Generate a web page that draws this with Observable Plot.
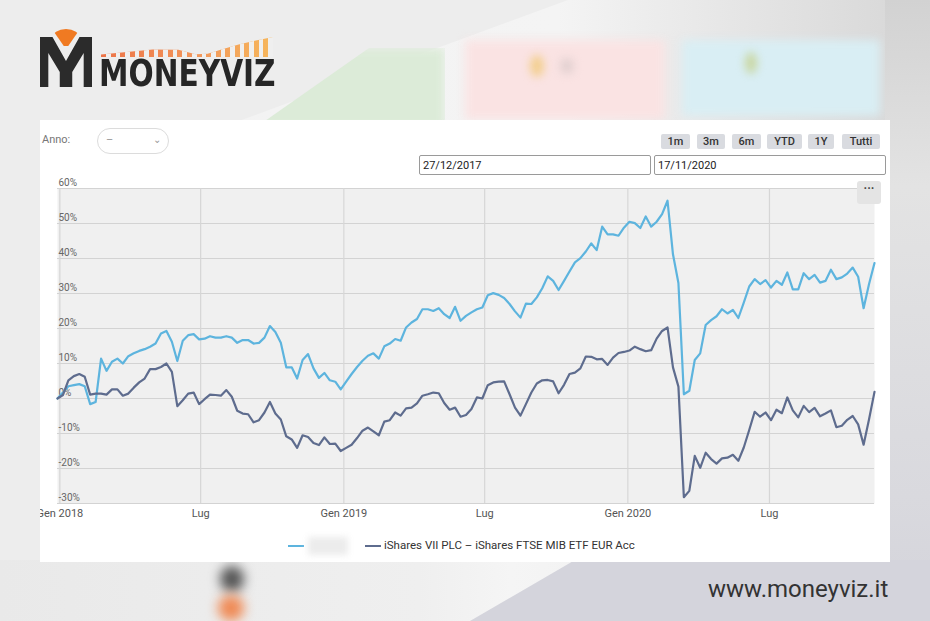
<!DOCTYPE html>
<html>
<head>
<meta charset="utf-8">
<script src="https://cdn.jsdelivr.net/npm/d3@7"></script>
<script src="https://cdn.jsdelivr.net/npm/@observablehq/plot@0.6"></script>
<style>
  html, body { margin: 0; padding: 0; }
  body { width: 930px; height: 621px; overflow: hidden; position: relative; background: #ededed; font-family: Roboto, "Noto Sans", sans-serif; }
  .abs { position: absolute; }
  #panel { position: absolute; left: 40px; top: 120px; width: 850px; height: 442px; background: #fff; overflow: hidden; }
  .btn { position: absolute; top: 14px; height: 15px; line-height: 15px; background: #d9dbe0; color: #333; font-size: 11px; font-weight: 500; text-align: center; border-radius: 2px; }
  .inp { position: absolute; top: 35px; height: 20px; border: 1px solid #9a9a9a; border-radius: 2px; font-size: 11px; line-height: 20px; color: #222; padding-left: 3px; box-sizing: border-box; }
</style>
</head>
<body>
<!-- background decoration -->
<div class="abs" style="left:0;top:0;width:930px;height:125px;background:linear-gradient(90deg,#f2f2f2,#f4f4f4 60%,#d6d6d6);clip-path:polygon(228px 125px,568px 0,930px 0,930px 125px);"></div>
<div class="abs" style="left:255px;top:48px;width:190px;height:80px;background:#dcebd8;filter:blur(5px);clip-path:polygon(0 100%,60% 0,100% 0,100% 100%);"></div>
<div class="abs" style="left:465px;top:40px;width:200px;height:80px;background:#fae3e3;filter:blur(5px);"></div>
<div class="abs" style="left:530px;top:55px;width:14px;height:22px;background:#f3cf8f;filter:blur(4px);border-radius:50%;"></div>
<div class="abs" style="left:560px;top:58px;width:14px;height:16px;background:#e2d0d0;filter:blur(4px);border-radius:50%;"></div>
<div class="abs" style="left:682px;top:40px;width:198px;height:76px;background:#d9eef4;filter:blur(5px);"></div>
<div class="abs" style="left:745px;top:52px;width:12px;height:22px;background:#c9d7a2;filter:blur(4px);border-radius:50%;"></div>
<div class="abs" style="left:885px;top:0;width:45px;height:621px;background:linear-gradient(180deg,#d2d2d2,#e3e3e3 30%,#d9d9de 80%,#d4d4db);"></div>
<div class="abs" style="left:0;top:560px;width:930px;height:61px;background:linear-gradient(90deg,#e9e9e9,#efefef 45%,#f5f5f5 55%,#e8e8e8);"></div>
<div class="abs" style="left:0;top:560px;width:930px;height:61px;background:#d4d4dc;clip-path:polygon(575px 0,930px 0,930px 61px,470px 61px);"></div>
<div class="abs" style="left:220px;top:566px;width:24px;height:26px;background:#555;filter:blur(6px);border-radius:50%;"></div>
<div class="abs" style="left:218px;top:595px;width:26px;height:26px;background:#ef8a55;filter:blur(6px);border-radius:50%;"></div>

<!-- logo -->
<div class="abs" style="left:52px;top:29px;width:28px;height:17px;background:#f07a22;border-radius:14px 14px 0 0 / 9px 9px 0 0;clip-path:polygon(0 0,100% 0,58% 100%,42% 100%);"></div>
<div class="abs" style="left:40px;top:37px;width:52px;height:50px;background:#2b2b2b;clip-path:polygon(0 0,24% 0,50% 48%,76% 0,100% 0,100% 100%,84% 100%,84% 32%,62% 70%,62% 100%,38% 100%,38% 70%,16% 32%,16% 100%,0 100%);"></div>
<div class="abs" style="left:101px;top:37px;width:172px;height:20px;background:repeating-linear-gradient(90deg,transparent 0 5px,#efefef 5px 9.55px),linear-gradient(90deg,#ec7448,#f2955a 55%,#f6b75c);clip-path:polygon(0 88%,30% 62%,45% 64%,55% 86%,62% 84%,70% 62%,80% 38%,90% 18%,100% 0,100% 100%,0 100%);"></div>
<div class="abs" style="left:99px;top:56px;font-family:'Liberation Sans Narrow','DejaVu Sans Condensed',sans-serif;font-weight:bold;font-size:37px;line-height:36px;color:#262626;letter-spacing:0;transform:scaleX(0.89);transform-origin:0 0;">MONEYVIZ</div>

<div id="panel">
  <div class="abs" style="left:2px;top:13px;font-size:11px;color:#777;">Anno:</div>
  <div class="abs" style="left:57px;top:8px;width:72px;height:26px;border:1px solid #dcdcdc;border-radius:14px;box-sizing:border-box;">
    <span class="abs" style="left:8px;top:4px;font-size:11px;color:#999;">–</span>
    <span class="abs" style="left:55px;top:5px;font-size:10px;color:#999;">⌄</span>
  </div>
  <div class="btn" style="left:621px;width:29px;">1m</div>
  <div class="btn" style="left:657px;width:28px;">3m</div>
  <div class="btn" style="left:692px;width:29px;">6m</div>
  <div class="btn" style="left:727px;width:35px;">YTD</div>
  <div class="btn" style="left:768px;width:26px;">1Y</div>
  <div class="btn" style="left:802px;width:38px;">Tutti</div>
  <div class="inp" style="left:379px;width:232px;">27/12/2017</div>
  <div class="inp" style="left:614px;width:232px;">17/11/2020</div>
  <div id="chart" class="abs" style="left:0;top:55px;"></div>
  <div class="abs" style="left:817px;top:61px;width:24px;height:23px;background:#e4e4e4;border-radius:3px;text-align:center;font-size:12px;line-height:16px;color:#444;font-weight:bold;">···</div>
  <div id="legend" class="abs" style="left:0;top:417px;width:850px;height:18px;"></div>
</div>

<div class="abs" style="left:708px;top:575px;font-size:24px;color:#333;letter-spacing:0;">www.moneyviz.it</div>

<script>
// Weekly closes, % change since start
const startDate = "2017-12-29";
const seriesNames = ["", "iShares VII PLC – iShares FTSE MIB ETF EUR Acc"];
const seriesColors = ["#5db4de", "#5e6c8e"];

const seriesA = [
  0, 1.7, 3.5, 3.8, 4.1, 3.5, -1.6, -1.0, 11.4, 7.9, 10.5, 11.4, 10, 12.1, 12.9, 13.6, 14.1, 14.8, 15.7, 18.6,
  19.3, 16.2, 10.7, 16.5, 18.1, 18.4, 16.9, 17.1, 17.8, 17.4, 17.4, 17.8, 17.4, 15.9, 16.7, 16.7, 15.7, 15.9, 17.4, 20.7,
  19, 15.9, 8.9, 8.9, 5.7, 11, 12.7, 8.6, 5.9, 7.3, 5.2, 4.8, 2.6, 4.8,
  7, 9, 10.8, 12.2, 12.9, 11.4, 14.9, 15.7, 17, 16.5, 20.3, 21.7, 22.7, 25.5, 25.5, 25, 25.8, 24.1, 23, 26.2,
  22.2, 23.6, 24.6, 25.5, 26, 29.5, 30.1, 29.6, 28.7, 27, 24.9, 23.1, 27.1, 27, 28.9, 31.5, 34.9, 33.6, 31, 33.6,
  36.3, 38.9, 40.1,
  42, 44.3, 42.4, 49.1, 46.9, 46.9, 46.5, 48.8, 50.5, 50.1, 48.7, 52, 49.1, 50.5, 52.7, 56.5, 41.2, 33, 1.2, 2.2,
  11, 12.9, 21, 22.4, 23.5, 25.5, 24.3, 25.3, 23, 27.4, 32, 34.1, 32.7, 33.8, 31.7, 33.6, 32.5, 36, 31.2, 31.2,
  35.8, 34.1, 35.3, 33.1, 33.6, 36.8, 34.1, 34.6, 35.7, 37.4, 34.8, 25.8, 32.7, 38.7
];

const seriesB = [
  0, 1, 5.2, 6.4, 7, 6.2, 1.1, 1.4, 1.4, 1.1, 2.6, 2.6, 0.8, 1.4, 3.1, 4.6, 5.7, 8.4, 8.4, 9,
  10, 7.6, -2.2, -0.5, 1.4, 1.7, -1.6, -0.2, 1.1, 1, 0.8, 2.4, 0.5, -3.5, -4.3, -4.5, -6.8, -6.2, -4, -1,
  -4.3, -6, -10.8, -11.7, -14.1, -10.5, -11, -12.7, -13.3, -11.1, -13, -12.9, -15, -14.1,
  -13.2, -11.3, -9.2, -8.3, -9.4, -10.5, -6.6, -6.2, -4, -4.9, -2.8, -2.6, -1.4, 0.8, 1.2, 1.7, 1.5, -1.3, -3.2, -2.6,
  -5.2, -4.7, -3, 0.3, 0, 3.8, 4.6, 4.8, 4.9, 1.2, -2.6, -4.9, -1.6, 1.7, 4.3, 5.2, 5.3, 4.9, 1.5, 3.9,
  7, 7.4, 8.6,
  12, 11.9, 11.2, 11.3, 9.6, 11.7, 13, 13.3, 13.7, 14.8, 14.1, 13.5, 13.8, 17.1, 19.3, 20.3, 8.9, 3.4, -28.2, -26.4,
  -16.4, -19.8, -15.5, -17.3, -18.6, -17.1, -16.9, -16.1, -17.8, -14, -9, -3.8, -5.2, -4, -6.2, -3.2, -4.2, 0.3, -3.4, -5.4,
  -2.1, -3.9, -2.7, -5.1, -4.3, -3.4, -8.2, -7.8, -6.1, -5, -7.4, -13.2, -5.9, 1.9
];

const yTicks = [-30, -20, -10, 0, 10, 20, 30, 40, 50, 60];
const xTickDates = ["2018-01-01", "2018-07-01", "2019-01-01", "2019-07-01", "2020-01-01", "2020-07-01"];
const xTickLabels = ["Gen 2018", "Lug", "Gen 2019", "Lug", "Gen 2020", "Lug"];

const start = new Date(startDate + "T00:00:00Z");
const dates = seriesA.map((_, i) => d3.utcDay.offset(start, 7 * i));
const rows = dates.map((date, i) => ({date, a: seriesA[i], b: seriesB[i]}));
const xTicks = xTickDates.map(s => new Date(s + "T00:00:00Z"));
const labelMap = new Map(xTicks.map((d, i) => [+d, xTickLabels[i]]));

const chart = Plot.plot({
  width: 850,
  height: 355,
  marginLeft: 17,
  marginRight: 16,
  marginTop: 13,
  marginBottom: 27,
  style: {fontFamily: "Roboto, sans-serif", background: "transparent", overflow: "visible"},
  x: {type: "utc", domain: [dates[0], dates[dates.length - 1]]},
  y: {domain: [-30, 60]},
  marks: [
    Plot.frame({fill: "#f0f0f0", stroke: null}),
    Plot.gridY(yTicks, {stroke: "#d3d3d3", strokeOpacity: 1, strokeWidth: 1.2}),
    Plot.gridX(xTicks, {stroke: "#d6d6d6", strokeOpacity: 1, strokeWidth: 1.2}),
    Plot.axisY(yTicks, {anchor: "left", tickSize: 0, tickPadding: 0, textAnchor: "start", dx: 1, dy: -6,
      tickFormat: d => d + "%", fontSize: 10, fill: "#666", label: null}),
    Plot.axisX(xTicks, {anchor: "bottom", tickSize: 0, tickPadding: 6,
      tickFormat: d => labelMap.get(+d), fontSize: 11, fill: "#555", label: null}),
    Plot.line(rows, {x: "date", y: "a", stroke: seriesColors[0], strokeWidth: 2.2}),
    Plot.line(rows, {x: "date", y: "b", stroke: seriesColors[1], strokeWidth: 2.2})
  ]
});
document.getElementById("chart").appendChild(chart);

// legend
const legend = document.getElementById("legend");
legend.innerHTML = `
  <div class="abs" style="left:248px;top:8px;width:16px;height:2px;background:${seriesColors[0]};"></div>
  <div class="abs" style="left:268px;top:0px;width:40px;height:18px;background:#ececec;filter:blur(3px);"><span style="color:transparent;font-size:11px;">${seriesNames[0]}</span></div>
  <div class="abs" style="left:325px;top:8px;width:16px;height:2px;background:${seriesColors[1]};"></div>
  <div class="abs" style="left:344px;top:1px;font-size:11.5px;color:#333;white-space:nowrap;">${seriesNames[1]}</div>
`;
</script>
</body>
</html>
